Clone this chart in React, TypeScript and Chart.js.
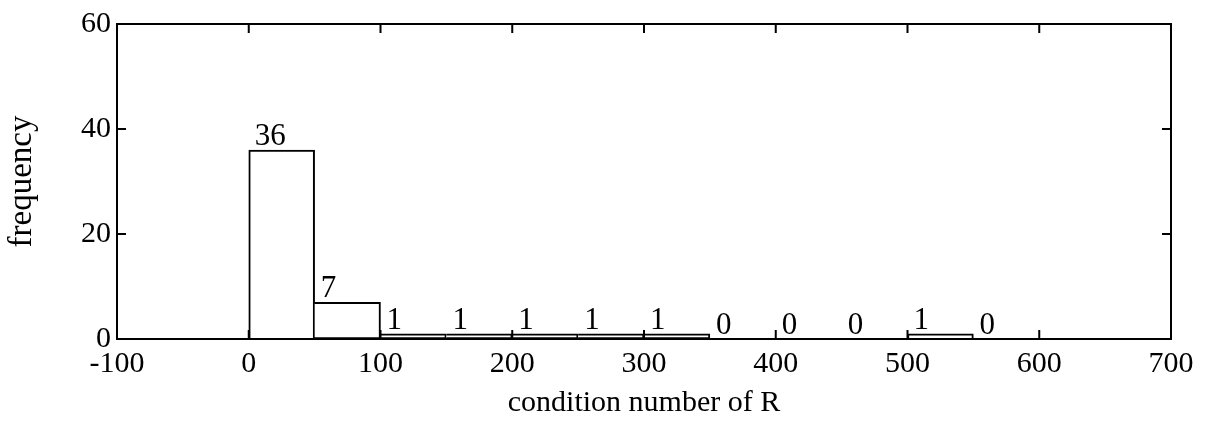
import React, { useEffect, useRef } from "react";
import { Chart, registerables } from "chart.js";

Chart.register(...registerables);

const binStarts = [0, 50, 100, 150, 200, 250, 300, 350, 400, 450, 500, 550];
const binWidth = 50;
const frequencies = [36, 7, 1, 1, 1, 1, 1, 0, 0, 0, 1, 0];
const xTitle = "condition number of R";
const yTitle = "frequency";
const xMin = -100;
const xMax = 700;
const xStep = 100;
const yMin = 0;
const yMax = 60;
const yStep = 20;

const FONT = "'Liberation Serif', 'DejaVu Serif', serif";

const framePlugin = {
  id: "framePlugin",
  afterDatasetsDraw(chart: any) {
    const ctx = chart.ctx;
    const { left, right, top, bottom } = chart.chartArea;
    const xs = chart.scales.x;
    const ys = chart.scales.y;
    ctx.save();
    ctx.strokeStyle = "#000";
    ctx.lineWidth = 2;
    ctx.strokeRect(left, top, right - left, bottom - top);
    const tl = 9;
    ctx.beginPath();
    xs.ticks.forEach((t: any) => {
      const px = xs.getPixelForValue(t.value);
      ctx.moveTo(px, bottom);
      ctx.lineTo(px, bottom - tl);
      ctx.moveTo(px, top);
      ctx.lineTo(px, top + tl);
    });
    ys.ticks.forEach((t: any) => {
      const py = ys.getPixelForValue(t.value);
      ctx.moveTo(left, py);
      ctx.lineTo(left + tl, py);
      ctx.moveTo(right, py);
      ctx.lineTo(right - tl, py);
    });
    ctx.stroke();
    ctx.fillStyle = "#000";
    ctx.font = `31px ${FONT}`;
    ctx.textAlign = "left";
    ctx.textBaseline = "alphabetic";
    frequencies.forEach((v, i) => {
      const px = xs.getPixelForValue(binStarts[i]) + 6;
      const py = ys.getPixelForValue(v) - 5;
      ctx.fillText(String(v), px, py);
    });
    ctx.restore();
  },
};

export default function App() {
  const ref = useRef<HTMLCanvasElement | null>(null);
  useEffect(() => {
    if (!ref.current) return;
    Chart.defaults.font.family = FONT;
    Chart.defaults.color = "#000";
    const data = binStarts.map((s, i) => ({ x: s + binWidth / 2, y: frequencies[i] }));
    const chart = new Chart(ref.current, {
      type: "bar",
      data: {
        datasets: [
          {
            data: data as any,
            backgroundColor: "#fff",
            borderColor: "#000",
            borderWidth: 2,
            borderSkipped: ((c: any) =>
              c.dataIndex > 0 && frequencies[c.dataIndex - 1] > 0 ? "left" : "bottom") as any,
            categoryPercentage: 1,
            barPercentage: 1,
          },
        ],
      },
      options: {
        animation: false,
        responsive: false,
        events: [],
        layout: { padding: { top: 22, right: 34, left: 0, bottom: 0 } },
        plugins: { legend: { display: false }, tooltip: { enabled: false } },
        scales: {
          x: {
            type: "linear",
            min: xMin,
            max: xMax,
            offset: false,
            grid: { display: false, drawTicks: false },
            border: { display: false },
            ticks: { stepSize: xStep, font: { size: 30 }, color: "#000", padding: 7, maxRotation: 0 },
            title: {
              display: true,
              text: xTitle,
              font: { size: 30 },
              color: "#000",
              padding: { top: 0, bottom: 2 },
            },
            afterFit: (s: any) => {
              s.height = 84;
            },
          },
          y: {
            min: yMin,
            max: yMax,
            grid: { display: false, drawTicks: false },
            border: { display: false },
            ticks: { stepSize: yStep, font: { size: 30 }, color: "#000", padding: 6 },
            title: {
              display: true,
              text: yTitle,
              font: { size: 33 },
              color: "#000",
              padding: { top: 3, bottom: 0 },
            },
            afterFit: (s: any) => {
              s.width = 117;
            },
          },
        },
      },
      plugins: [framePlugin],
    });
    return () => chart.destroy();
  }, []);
  return (
    <div style={{ position: "absolute", left: 0, top: 0, width: 1205, height: 423, background: "#fff" }}>
      <canvas ref={ref} width={1205} height={423} style={{ display: "block" }} />
    </div>
  );
}
